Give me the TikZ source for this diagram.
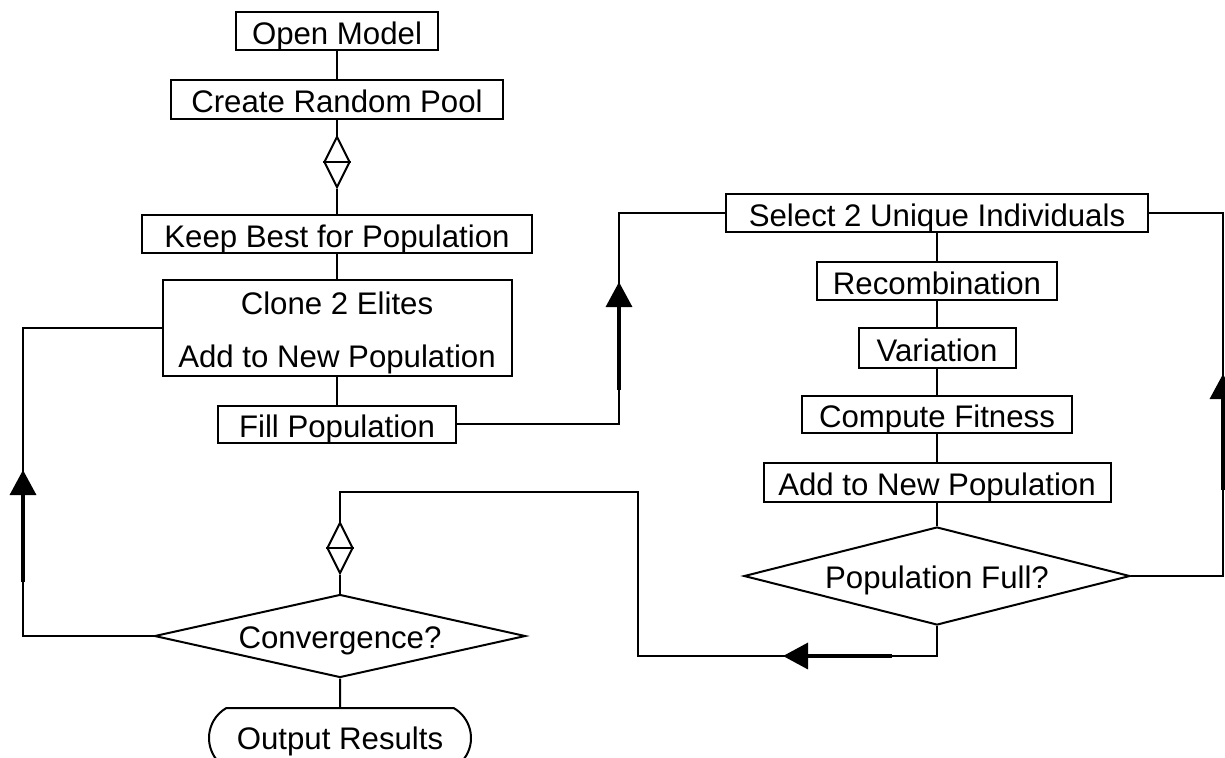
\documentclass[tikz,border=0pt]{standalone}
\usepackage{fontspec}
\setmainfont{Liberation Sans}
\usepackage{tikz}
\usetikzlibrary{shapes.geometric,      % losanges
           shapes.misc,                % rectangle arrondi
           arrows.meta}

\begin{document}
\begin{tikzpicture}[x=0.5pt,y=-0.5pt,line width=1pt,
  every node/.style={font=\fontsize{15.6}{26.5}\selectfont,inner sep=0pt},
  boite/.style={draw,rectangle,align=center,text height=13pt,text depth=0pt},
  test/.style={draw,diamond,aspect=4,text height=12pt,text depth=0pt},
  jonction/.style={draw,diamond,minimum width=13pt,minimum height=25.5pt},
  fin/.style={draw,rounded rectangle,rounded rectangle arc length=120,text height=11pt,text depth=0pt},
  fleche/.style={line width=1.7pt,-{Triangle[length=12.5pt,width=13pt]}}]
\useasboundingbox (0,0) rectangle (1225,757);
% colonne de gauche
\node[boite,minimum width=101pt,minimum height=19pt] (ouvrir) at (337,31) {Open Model};
\node[boite,minimum width=166pt,minimum height=19.5pt] (creer) at (337,99) {Create Random Pool};
\node[jonction] (j1) at (337,162) {};
\node[boite,minimum width=195pt,minimum height=19pt] (garder) at (337,234) {Keep Best for Population};
\node[boite,minimum width=174.5pt,minimum height=48pt,text height=39pt] (cloner) at (337,328) {Clone 2 Elites\\Add to New Population};
\node[boite,minimum width=119pt,minimum height=18.5pt] (remplir) at (337,424) {Fill Population};
\node[jonction] (j2) at (340,548) {};
\node[test,minimum width=185.5pt,minimum height=41.5pt] (conv) at (340,636) {Convergence?};
\node[fin,minimum width=131pt,minimum height=30pt] (sortie) at (340,738) {Output Results};
% colonne de droite
\node[boite,minimum width=211pt,minimum height=19pt] (choisir) at (937,213) {Select 2 Unique Individuals};
\node[boite,minimum width=120pt,minimum height=19pt] (recomb) at (937,281) {Recombination};
\node[boite,minimum width=78.5pt,minimum height=20pt] (variation) at (937,348) {Variation};
\node[boite,minimum width=135pt,minimum height=18.5pt] (fitness) at (937,414.5) {Compute Fitness};
\node[boite,minimum width=173.5pt,minimum height=19.5pt] (ajouter) at (937,482.5) {Add to New Population};
\node[test,minimum width=193pt,minimum height=49pt] (plein) at (937,576) {Population Full?};
% coins des boucles
\coordinate (hautG) at (619,213);
\coordinate (hautD) at (1223,213);
\coordinate (basM) at (638,656);
\coordinate (hautM) at (638,492);
\coordinate (gauche) at (23,328);
\draw (ouvrir) -- (creer);
\draw (creer) -- (j1);
\draw (j1) -- (garder);
\draw (j1.west) -- (j1.east);
\draw (garder) -- (cloner);
\draw (cloner) -- (remplir);
\draw (remplir.east) -| (hautG) -- (choisir.west);
\draw (choisir) -- (recomb);
\draw (recomb) -- (variation);
\draw (variation) -- (fitness);
\draw (fitness) -- (ajouter);
\draw (ajouter) -- (plein);
\draw (plein.east) -| (hautD) -- (choisir.east);
\draw (plein.south) |- (basM) -- (hautM) -| (j2.north);
\draw (j2.west) -- (j2.east);
\draw (j2) -- (conv);
\draw (conv) -- (sortie);
\draw (conv.west) -| (gauche) -- (cloner.west);
% fleches
\coordinate (f1a) at (619,390); \coordinate (f1b) at (619,282);
\coordinate (f2a) at (1223,490); \coordinate (f2b) at (1223,374);
\coordinate (f3a) at (892,656); \coordinate (f3b) at (783,656);
\coordinate (f4a) at (23,582); \coordinate (f4b) at (23,470);
\draw[fleche] (f1a) -- (f1b);
\draw[fleche] (f2a) -- (f2b);
\draw[fleche] (f3a) -- (f3b);
\draw[fleche] (f4a) -- (f4b);
\end{tikzpicture}
\end{document}
